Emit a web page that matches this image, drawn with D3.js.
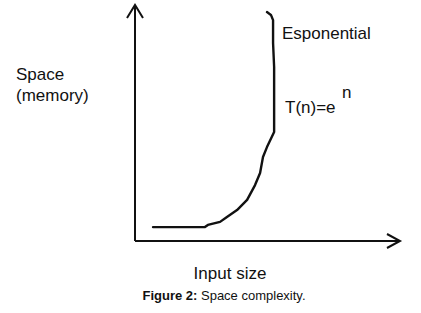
<!DOCTYPE html>
<html>
<head>
<meta charset="utf-8">
<script src="https://cdn.jsdelivr.net/npm/d3@7"></script>
<style>
  body { margin: 0; background: #fff; }
  svg { display: block; font-family: "Liberation Sans", Arial, sans-serif; }
</style>
</head>
<body>
<div id="chart"></div>
<script>
const W = 421, H = 313;

// hand-drawn growth curve, in chart units (input size, space)
const inputSize = [6.8, 26.4, 27.5, 32.1, 34.7, 38.5, 42.3, 45.3, 47.2, 48.3, 49.8, 52.5, 52.5, 52.5, 52.1, 52.1, 51.3, 49.8];
const space = [5.9, 5.9, 6.8, 8.1, 10.2, 13.1, 17.4, 23.7, 28.8, 35.6, 39.8, 46.2, 52.5, 73.7, 83.9, 93.6, 95.8, 97.0];

const xTitle = "Input size";
const yTitle = ["Space", "(memory)"];
const curveLabel = "Esponential";
const formula = "T(n)=e";
const exponent = "n";

const svg = d3.select("#chart").append("svg")
  .attr("width", W)
  .attr("height", H);

const x = d3.scaleLinear().domain([0, 100]).range([135, 400]);
const y = d3.scaleLinear().domain([0, 100]).range([241, 5]);

const ink = "#111";

// axes
svg.append("line")
  .attr("x1", x(0)).attr("y1", y(0))
  .attr("x2", x(0)).attr("y2", y(100))
  .attr("stroke", ink).attr("stroke-width", 2);
svg.append("path")
  .attr("d", `M${x(0) - 8},${y(100) + 13} L${x(0)},${y(100)} L${x(0) + 8},${y(100) + 13}`)
  .attr("fill", "none").attr("stroke", ink).attr("stroke-width", 2);

svg.append("line")
  .attr("x1", x(0)).attr("y1", y(0))
  .attr("x2", x(100)).attr("y2", y(0))
  .attr("stroke", ink).attr("stroke-width", 2);
svg.append("path")
  .attr("d", `M${x(100) - 13},${y(0) - 7} L${x(100)},${y(0)} L${x(100) - 13},${y(0) + 7}`)
  .attr("fill", "none").attr("stroke", ink).attr("stroke-width", 2);

// curve
const pts = inputSize.map((d, i) => [d, space[i]]);
svg.append("path")
  .datum(pts)
  .attr("d", d3.line().x(d => x(d[0])).y(d => y(d[1])).curve(d3.curveLinear))
  .attr("fill", "none")
  .attr("stroke", ink)
  .attr("stroke-width", 2.4)
  .attr("stroke-linejoin", "round")
  .attr("stroke-linecap", "round");

// labels
svg.append("text").attr("x", 282).attr("y", 39)
  .attr("font-size", "17px").attr("fill", ink).text(curveLabel);
svg.append("text").attr("x", 285).attr("y", 113)
  .attr("font-size", "17px").attr("fill", ink).text(formula);
svg.append("text").attr("x", 342).attr("y", 98)
  .attr("font-size", "17px").attr("fill", ink).text(exponent);

svg.append("text").attr("x", 16).attr("y", 80)
  .attr("font-size", "17px").attr("fill", ink).text(yTitle[0]);
svg.append("text").attr("x", 16).attr("y", 101)
  .attr("font-size", "17px").attr("fill", ink).text(yTitle[1]);

svg.append("text").attr("x", 230).attr("y", 279)
  .attr("text-anchor", "middle")
  .attr("font-size", "17px").attr("fill", ink).text(xTitle);

const cap = svg.append("text").attr("x", 224).attr("y", 300)
  .attr("text-anchor", "middle")
  .attr("font-size", "13px").attr("fill", ink);
cap.append("tspan").attr("font-weight", "bold").text("Figure 2:");
cap.append("tspan").text(" Space complexity.");
</script>
</body>
</html>
